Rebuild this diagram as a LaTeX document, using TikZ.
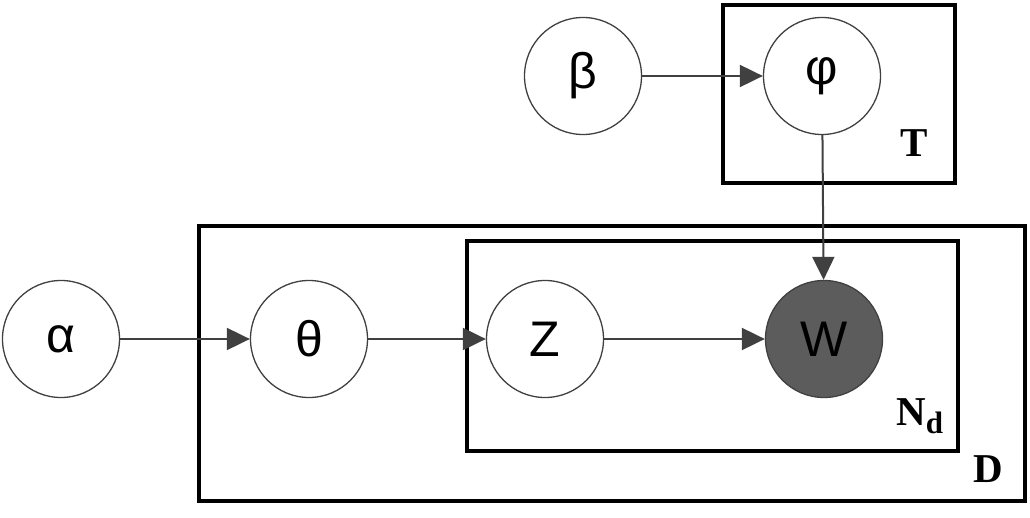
\documentclass[tikz,border=0pt]{standalone}
\usepackage{fontspec}
\setmainfont{Liberation Serif}
\newfontfamily\circfont{Liberation Sans}
\usetikzlibrary{arrows.meta}
\definecolor{edgegray}{RGB}{64,64,64}
\definecolor{obsgray}{RGB}{92,92,92}
\begin{document}
\begin{tikzpicture}[x=1pt,y=-1pt,
  var/.style={circle,draw=edgegray,line width=1.3pt,minimum size=117pt,inner sep=0pt,font=\circfont\fontsize{50}{50}\selectfont},
  obs/.style={var,fill=obsgray},
  plate/.style={draw=black,line width=4pt},
  platelabel/.style={font=\fontsize{41}{41}\selectfont\bfseries,inner sep=0pt},
  edge/.style={draw=edgegray,line width=2pt,-{Triangle[length=23pt,width=22pt]}}]
\useasboundingbox (0,0) rectangle (1030,518);
\draw[plate] (723,5) rectangle (955,183);
\draw[plate] (199,226) rectangle (1025,501);
\draw[plate] (467,241) rectangle (958,451);
\node[var] (alpha) at (61,339) {α};
\node[var] (theta) at (309,339) {θ};
\node[var] (z) at (545,339) {Z};
\node[obs] (w) at (824,339) {W};
\node[var] (beta) at (583,76) {β};
\node[var] (phi) at (822,76) {φ};
\node[platelabel,anchor=base] (tl) at (914,157) {T};
\node[platelabel,anchor=base west] (nl) at (896,425) {N\raisebox{-8pt}{\fontsize{31}{31}\selectfont d}};
\node[fill=white,minimum width=38pt,minimum height=40pt,inner sep=0pt] (dbg) at (989,478) {};
\node[platelabel,anchor=base] (dl) at (988,482) {D};
\draw[edge] (alpha) -- (theta);
\draw[edge] (theta) -- (z);
\draw[edge] (z) -- (w);
\draw[edge] (beta) -- (phi);
\draw[edge] (phi) -- (w);
\end{tikzpicture}
\end{document}
